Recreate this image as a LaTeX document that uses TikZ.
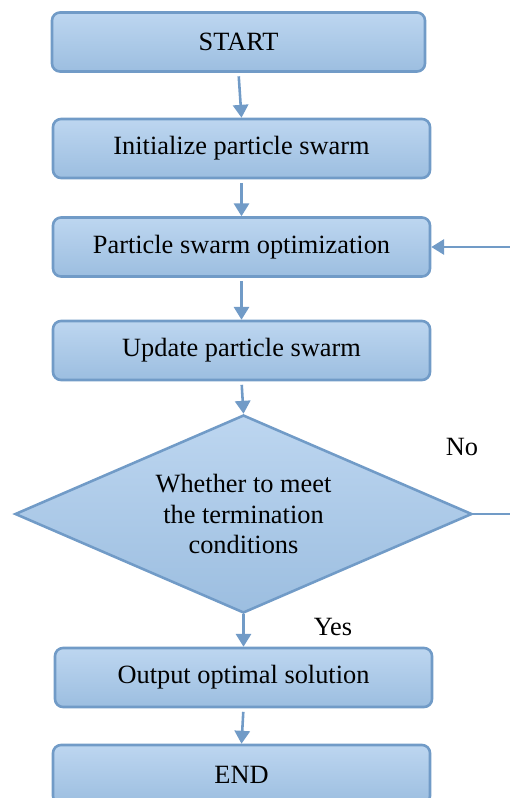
\documentclass[tikz,border=0pt]{standalone}
\usepackage{fontspec}
\setmainfont{Liberation Serif}
\usepackage{tikz}
\usetikzlibrary{shapes.geometric, arrows.meta}
\definecolor{flowline}{RGB}{113,155,199}
\definecolor{filltop}{RGB}{189,214,240}
\definecolor{fillbot}{RGB}{156,190,224}
\tikzset{
  flowbox/.style = {rectangle, rounded corners=0.24cm, draw=flowline, line width=2.2pt, top color=filltop, bottom color=fillbot, minimum width=11.31cm, minimum height=1.77cm, align=center, font=\fontsize{22.5}{27}\selectfont},
  decision/.style = {diamond, draw=flowline, line width=2.2pt, top color=filltop, bottom color=fillbot, aspect=2.3, inner sep=0pt, minimum width=13.71cm, minimum height=5.94cm, align=center, font=\fontsize{22.5}{26}\selectfont},
  flowarrow/.style = {draw=flowline, line width=2.2pt, -{Triangle[width=13pt,length=11pt]}, shorten <=3pt},
  flowlabel/.style = {font=\fontsize{22.5}{27}\selectfont}
}
\begin{document}
\begin{tikzpicture}[x=0.03cm, y=-0.03cm]
    \useasboundingbox (0,0) rectangle (510,798);
    \node[flowbox, minimum width=11.19cm] (start) at (238.5,42) {START};
    \node[flowbox] (init) at (241.5,148.5) {Initialize particle swarm};
    \node[flowbox] (pso) at (241.5,247) {Particle swarm optimization};
    \node[flowbox] (update) at (241.5,350.5) {Update particle swarm};
    \node[decision] (check) at (243.5,514) {Whether to meet\\the termination\\conditions};
    \node[flowbox] (output) at (243.5,677.5) {Output optimal solution};
    \node[flowbox] (finish) at (241.5,774.5) {END};
    \node[flowlabel] (no) at (462,447) {No};
    \node[flowlabel] (yes) at (333,627) {Yes};
    \coordinate (loopin) at (510,247);
    \coordinate (loopout) at (510,514);
    \draw[flowarrow] (start.south) -- (init.north);
    \draw[flowarrow] (init.south) -- (pso.north);
    \draw[flowarrow] (pso.south) -- (update.north);
    \draw[flowarrow] (update.south) -- (check.north);
    \draw[flowarrow, shorten <=0pt] (check.south) -- (output.north);
    \draw[flowarrow] (output.south) -- (finish.north);
    \draw[draw=flowline, line width=2.2pt] (check.east) -- (loopout);
    \draw[flowarrow, shorten <=0pt] (loopin) -- (pso.east);
\end{tikzpicture}
\end{document}
